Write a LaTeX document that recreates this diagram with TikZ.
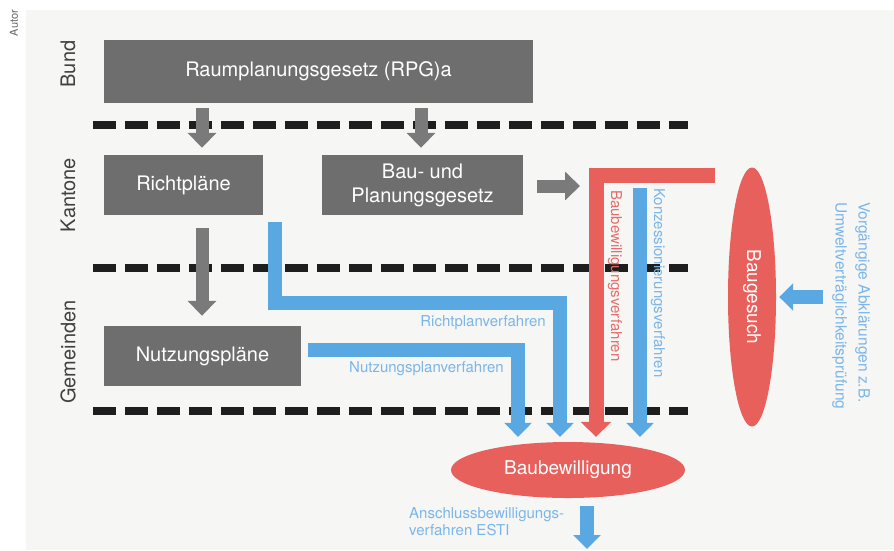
\documentclass[tikz,border=0pt]{standalone}
\usepackage{fontspec}
\setmainfont{TeX Gyre Heros}
\usepackage{xcolor}
\definecolor{cBox}{HTML}{6E6E6E}
\definecolor{cArrow}{HTML}{7A7A7A}
\definecolor{cDash}{HTML}{1E1E1E}
\definecolor{cRed}{HTML}{E8605C}
\definecolor{cBlue}{HTML}{5AA8E2}
\definecolor{cBlueText}{HTML}{7BB6E8}
\definecolor{cRedText}{HTML}{E56E6A}
\definecolor{cPaper}{HTML}{F6F6F5}
\usepackage{tikz}
\usetikzlibrary{positioning,arrows.meta,shapes.geometric}
\tikzset{
  node-box/.style={fill=cBox,text=white,inner sep=0pt,align=center,
    font=\fontsize{20}{24}\selectfont},
  node-oval/.style={ellipse,fill=cRed,text=white,inner sep=0pt,
    font=\fontsize{19}{23}\selectfont},
  node-level/.style={rotate=90,text=black!75,font=\fontsize{20}{24}\selectfont},
  label-blue/.style={text=cBlueText,inner sep=0pt,font=\fontsize{15}{17}\selectfont},
  label-red/.style={text=cRedText,inner sep=0pt,font=\fontsize{15}{17}\selectfont},
  arrow-gray/.style={-{Triangle[width=28pt,length=15pt]},line width=13pt,draw=cArrow},
  arrow-blue/.style={-{Triangle[width=27pt,length=14pt]},line width=14pt,draw=cBlue},
  arrow-red/.style={-{Triangle[width=30pt,length=15pt]},line width=15pt,draw=cRed},
  level-line/.style={line width=8pt,draw=cDash,dash pattern=on 23pt off 9pt},
}

\begin{document}
\begin{tikzpicture}[x=1pt,y=-1pt]
  \fill[white] (0,0) rectangle (894,550);
  \fill[cPaper] (26,10) rectangle (894,550);
  \useasboundingbox (0,0) rectangle (894,550);
  % Ebenen
  \foreach \y in {125,268,411}
    \draw[level-line] (93,\y) -- (688,\y);
  \node[rotate=90,text=black!60,font=\fontsize{11}{13}\selectfont] (autor) at (14,23) {Autor};
  \node[node-level] (bund) at (68,64) {Bund};
  \node[node-level] (kant) at (68,195) {Kantone};
  \node[node-level] (gem) at (68,352) {Gemeinden};

  % Gesetze und Pläne
  \node[node-box,minimum width=429pt,minimum height=63pt] (rpg) at (318.5,71.5) {Raumplanungsgesetz (RPG)a};
  \node[node-box,minimum width=159pt,minimum height=60pt] (rp) at (183.5,185) {Richtpläne};
  \node[node-box,minimum width=201pt,minimum height=60pt] (bpg) at (422.5,185) {Bau- und\\Planungsgesetz};
  \node[node-box,minimum width=197pt,minimum height=60pt] (nzp) at (202.5,356) {Nutzungspläne};
  \node[node-oval,minimum width=234pt,minimum height=56pt] (bb) at (568,470) {Baubewilligung};
  \node[node-oval,rotate=-90,minimum width=259pt,minimum height=48pt] (bg) at (752,297) {Baugesuch};

  % Knickpunkte und freie Enden
  \coordinate (xg1) at (202,0);
  \coordinate (xg2) at (421,0);
  \coordinate (xrp) at (275,303);
  \coordinate (xrq) at (560,303);
  \coordinate (xnp) at (518,350);
  \coordinate (bgout) at (715,175.5);
  \coordinate (xbv) at (596,175.5);
  \coordinate (xkz) at (640,188);
  \coordinate (bvin) at (580,186);
  \coordinate (uvp) at (823,297);
  \coordinate (xes) at (587,549);

  \draw[arrow-gray,shorten <=5pt,shorten >=7pt] (xg1 |- rpg.south) -- (xg1 |- rp.north);
  \draw[arrow-gray,shorten <=5pt,shorten >=7pt] (xg2 |- rpg.south) -- (xg2 |- bpg.north);
  \draw[arrow-gray,shorten <=13pt,shorten >=10pt] (xg1 |- rp.south) -- (xg1 |- nzp.north);
  \draw[arrow-gray,shorten <=14pt] (bpg.east |- bvin) -- (bvin);

  \draw[arrow-blue,shorten <=7pt,shorten >=5pt] (xrp |- rp.south) -- (xrp) -- (xrq) -- (xrq |- bb.north);
  \draw[arrow-blue,shorten <=7pt,shorten >=5pt] (nzp.east |- xnp) -- (xnp) -- (xnp |- bb.north);
  \draw[arrow-red,shorten >=5pt] (bgout) -- (xbv) -- (xbv |- bb.north);
  \draw[arrow-blue,shorten >=5pt] (xkz) -- (xkz |- bb.north);
  \draw[arrow-blue,shorten >=3pt] (uvp) -- (bg.north);
  \draw[arrow-blue,shorten <=8pt] (xes |- bb.south) -- (xes);

  % Verfahren
  \node[label-blue,anchor=east] (lrp) at (546,323) {Richtplanverfahren};
  \node[label-blue,anchor=east] (lnp) at (504,369) {Nutzungsplanverfahren};
  \node[label-red,rotate=-90,anchor=west] (lbv) at (615,190) {Baubewilligungsverfahren};
  \node[label-blue,rotate=-90,anchor=west] (lkz) at (658,188) {Konzessionierungsverfahren};
  \node[label-blue,rotate=-90,anchor=north west,align=left,font=\fontsize{15.5}{23}\selectfont]
    (lvu) at (870,202) {Vorgängige Abklärungen z.B.\\Umweltverträglichkeitsprüfung};
  \node[label-blue,anchor=north west,align=left] (les) at (409,507) {Anschlussbewilligungs-\\verfahren ESTI};
\end{tikzpicture}
\end{document}
